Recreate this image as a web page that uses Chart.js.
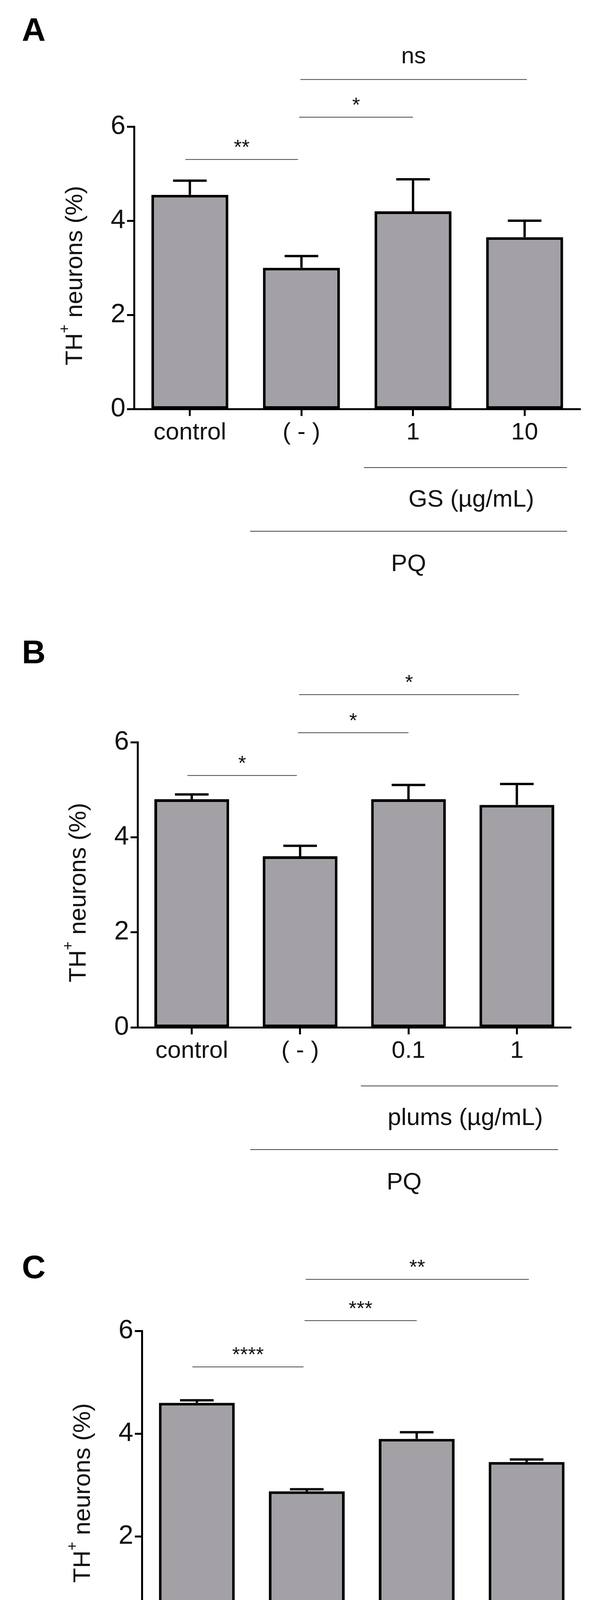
<!DOCTYPE html>
<html><head><meta charset="utf-8">
<script src="https://cdn.jsdelivr.net/npm/chart.js@4"></script>
<style>
body{margin:0;background:#fff;width:1530px;height:4649px;position:relative;font-family:"Liberation Sans",Arial,sans-serif}
.p{position:absolute;left:0;width:1530px;height:1550px}
</style></head><body>
<div class="p" style="top:0"><canvas id="cA"></canvas></div>
<div class="p" style="top:1550px"><canvas id="cB"></canvas></div>
<div class="p" style="top:3100px"><canvas id="cC"></canvas></div>
<script>
// panel A - GS
const labelsA = ["control", "( - )", "1", "10"];
const meansA = [4.55, 3.0, 4.2, 3.65];
const errA = [0.3, 0.25, 0.68, 0.35];
const sigA = ["**", "*", "ns"];
// panel B - plums
const labelsB = ["control", "( - )", "0.1", "1"];
const meansB = [4.8, 3.6, 4.8, 4.68];
const errB = [0.1, 0.22, 0.3, 0.44];
const sigB = ["*", "*", "*"];
// panel C - curcumin
const labelsC = ["control", "( - )", "0.1", "1"];
const meansC = [4.6, 2.88, 3.9, 3.45];
const errC = [0.05, 0.04, 0.13, 0.05];
const sigC = ["****", "***", "**"];

const yTicks = [0, 2, 4, 6];
// comparison bars: [from, to, y]
const sigPos = [[-0.04, 0.97, 5.3], [0.98, 2.0, 6.2], [0.99, 3.02, 7.0]];

const FONT = '"Liberation Sans", Arial, sans-serif';

const drawExtras = {
  id: 'extras',
  afterDatasetsDraw(chart) {
    const o = chart.options.plugins.extras;
    const ctx = chart.ctx, x = chart.scales.x, y = chart.scales.y;
    ctx.save();
    // error bars
    ctx.strokeStyle = '#000'; ctx.lineWidth = 6;
    o.means.forEach((m, i) => {
      const cx = x.getPixelForValue(i);
      const top = y.getPixelForValue(m + o.err[i]);
      ctx.beginPath();
      ctx.moveTo(cx, y.getPixelForValue(m)); ctx.lineTo(cx, top);
      ctx.moveTo(cx - 43, top); ctx.lineTo(cx + 43, top);
      ctx.stroke();
    });
    // significance
    ctx.lineWidth = 2; ctx.strokeStyle = '#444';
    ctx.fillStyle = '#111'; ctx.textAlign = 'center'; ctx.textBaseline = 'alphabetic';
    sigPos.forEach((s, i) => {
      const x1 = x.getPixelForValue(s[0]), x2 = x.getPixelForValue(s[1]);
      const yy = y.getPixelForValue(s[2]);
      ctx.beginPath(); ctx.moveTo(x1, yy); ctx.lineTo(x2, yy); ctx.stroke();
      const t = o.sig[i];
      ctx.font = (t === 'ns' ? '60px ' : '52px ') + FONT;
      ctx.fillText(t, (x1 + x2) / 2, yy - (t === 'ns' ? 42 : 14));
    });
    // group lines under axis
    const b = chart.chartArea.bottom;
    ctx.lineWidth = 2;
    let gx1 = x.getPixelForValue(1.56), gx2 = x.getPixelForValue(3.38);
    ctx.beginPath(); ctx.moveTo(gx1, b + 150); ctx.lineTo(gx2, b + 150); ctx.stroke();
    ctx.font = '62px ' + FONT;
    ctx.fillText(o.group, (gx1 + gx2) / 2 + 15, b + 250);
    let px1 = x.getPixelForValue(0.54);
    ctx.beginPath(); ctx.moveTo(px1, b + 313); ctx.lineTo(gx2, b + 313); ctx.stroke();
    ctx.fillText('PQ', (px1 + gx2) / 2, b + 415);
    // y title with superscript
    ctx.translate(chart.chartArea.left - 150, (chart.chartArea.top + b) / 2 + 20);
    ctx.rotate(-Math.PI / 2);
    ctx.font = '62px ' + FONT;
    const w1 = ctx.measureText('TH').width, w3 = ctx.measureText(' neurons (%)').width;
    ctx.font = '38px ' + FONT;
    const w2 = ctx.measureText('+').width;
    let sx = -(w1 + w2 + w3) / 2;
    ctx.textAlign = 'left'; ctx.textBaseline = 'middle';
    ctx.font = '62px ' + FONT; ctx.fillText('TH', sx, 0);
    ctx.font = '38px ' + FONT; ctx.fillText('+', sx + w1, -26);
    ctx.font = '62px ' + FONT; ctx.fillText(' neurons (%)', sx + w1 + w2, 0);
    ctx.restore();
    // panel letter
    ctx.save();
    ctx.font = 'bold 84px ' + FONT; ctx.fillStyle = '#000';
    ctx.fillText(o.letter, 56, o.letterY);
    ctx.restore();
  }
};

function makeChart(id, labels, means, err, sig, group, letter, letterY, pad) {
  new Chart(document.getElementById(id), {
    type: 'bar',
    data: {
      labels: labels,
      datasets: [{
        data: means,
        backgroundColor: '#a3a1a6',
        borderColor: '#000',
        borderWidth: 7,
        borderSkipped: false,
        barPercentage: 0.69,
        categoryPercentage: 1
      }]
    },
    plugins: [drawExtras],
    options: {
      responsive: false, animation: false,
      layout: { padding: pad },
      plugins: {
        legend: { display: false }, tooltip: { enabled: false },
        extras: { means: means, err: err, sig: sig, group: group, letter: letter, letterY: letterY }
      },
      scales: {
        x: {
          afterFit: s => { s.height = 100; },
          grid: { offset: false, drawOnChartArea: false, tickLength: 18, tickWidth: 5, tickColor: '#000' },
          border: { color: '#000', width: 5 },
          ticks: { color: '#111', font: { size: 62, family: FONT }, padding: 6 }
        },
        y: {
          min: 0, max: 6,
          afterFit: s => { s.width = 200; },
          afterBuildTicks: s => { s.ticks = yTicks.map(v => ({ value: v })); },
          grid: { drawOnChartArea: false, tickLength: 18, tickWidth: 5, tickColor: '#000' },
          border: { color: '#000', width: 5 },
          ticks: { color: '#111', font: { size: 68, family: FONT }, padding: 4 }
        }
      }
    }
  });
}

function setup(id) {
  const c = document.getElementById(id);
  c.width = 1530; c.height = 1550;
}
['cA', 'cB', 'cC'].forEach(setup);

makeChart('cA', labelsA, meansA, errA, sigA, 'GS (µg/mL)', 'A', 105,
  { left: 143, right: 45, top: 324, bottom: 403 });
makeChart('cB', labelsB, meansB, errB, sigB, 'plums (µg/mL)', 'B', 148,
  { left: 152, right: 69, top: 350, bottom: 370 });
makeChart('cC', labelsC, meansC, errC, sigC, 'curcumin (µM)', 'C', 172,
  { left: 163, right: 42, top: 307, bottom: 353 });
</script>
</body></html>
